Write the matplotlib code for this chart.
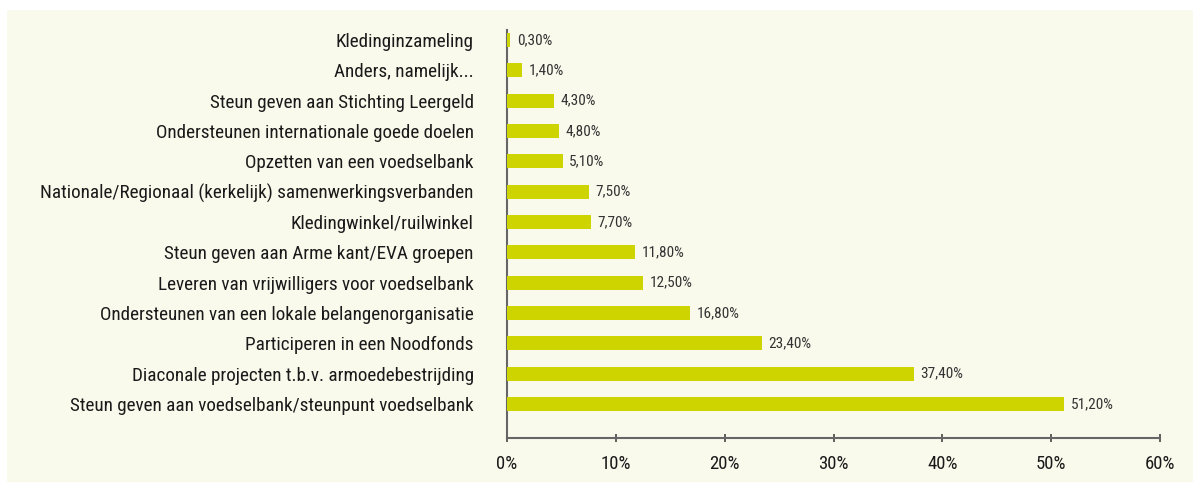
import matplotlib
matplotlib.use("Agg")
import matplotlib.pyplot as plt
from matplotlib.patches import Rectangle

categories = [
    "Steun geven aan voedselbank/steunpunt voedselbank",
    "Diaconale projecten t.b.v. armoedebestrijding",
    "Participeren in een Noodfonds",
    "Ondersteunen van een lokale belangenorganisatie",
    "Leveren van vrijwilligers voor voedselbank",
    "Steun geven aan Arme kant/EVA groepen",
    "Kledingwinkel/ruilwinkel",
    "Nationale/Regionaal (kerkelijk) samenwerkingsverbanden",
    "Opzetten van een voedselbank",
    "Ondersteunen internationale goede doelen",
    "Steun geven aan Stichting Leergeld",
    "Anders, namelijk...",
    "Kledinginzameling",
]
values = [51.2, 37.4, 23.4, 16.8, 12.5, 11.8, 7.7, 7.5, 5.1, 4.8, 4.3, 1.4, 0.3]
xticks = [0, 10, 20, 30, 40, 50, 60]

plt.rcParams["font.family"] = ["Roboto Condensed", "DejaVu Sans"]

bg = "#f9f9ec"
bar_color = "#cdd400"
fig = plt.figure(figsize=(11.93, 4.82), dpi=100)
fig.patch.set_facecolor("white")
fig.patches.append(Rectangle((7 / 1193, 0), 1 - 7 / 1193, 1 - 10 / 482,
                             transform=fig.transFigure, facecolor=bg,
                             edgecolor="none", zorder=-10))

ax = fig.add_axes([507 / 1193, 1 - 438 / 482, (1160 - 507) / 1193, (438 - 30) / 482])
ax.set_facecolor("none")
y = list(range(len(categories)))
ax.barh(y, values, height=0.46, color=bar_color, zorder=3)
for yi, v in zip(y, values):
    ax.text(v + 0.6, yi, f"{v:.2f}".replace(".", ",") + "%", va="center", ha="left",
            fontsize=11, color="#333333")

ax.set_xlim(0, 60)
ax.set_ylim(-1.12, 12.33)
ax.set_xticks(xticks)
ax.set_xticklabels([f"{t}%" for t in xticks], fontsize=13.5, color="#1a1a1a")
ax.set_yticks(y)
ax.set_yticklabels(categories, fontsize=13.8, color="#1a1a1a")
ax.tick_params(axis="y", length=0, pad=24)
ax.tick_params(axis="x", length=6, direction="inout", width=1.2, color="#444444", pad=9)
for s in ["top", "right"]:
    ax.spines[s].set_visible(False)
for s in ["left", "bottom"]:
    ax.spines[s].set_color("#666666")
    ax.spines[s].set_linewidth(1.5)

fig.savefig("out.png", dpi=100, facecolor=fig.get_facecolor())
